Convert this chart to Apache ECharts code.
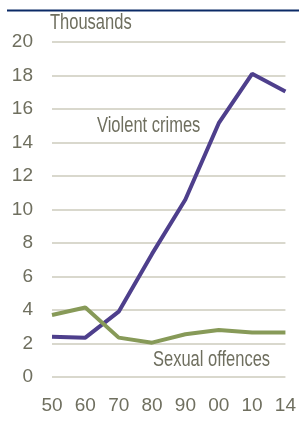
<!DOCTYPE html>
<html>
<head>
<meta charset="utf-8">
<script src="https://cdn.jsdelivr.net/npm/echarts@6/dist/echarts.min.js"></script>
<style>
html, body { margin: 0; padding: 0; background: #fff; }
#main { width: 299px; height: 428px; }
</style>
</head>
<body>
<div id="main"></div>
<script>
const years = ["50", "60", "70", "80", "90", "00", "10", "14"];
const violent = [2.4, 2.35, 3.9, 7.35, 10.6, 15.15, 18.1, 17.05];
const sexual = [3.7, 4.15, 2.35, 2.05, 2.55, 2.8, 2.65, 2.65];

const font = '"Liberation Sans", Arial, sans-serif';
const textColor = "#6f6f5f";

// narrow-looking label: regular font squeezed horizontally
function narrowText(text, x, y) {
	return {
		type: "text",
		x: x,
		y: y,
		scaleX: 0.75,
		style: {
			text: text,
			font: "22px " + font,
			fill: textColor,
			verticalAlign: "middle",
		},
	};
}

let chart = echarts.init(document.getElementById("main"));

chart.setOption({
	animation: false,
	grid: { left: 52, right: 12, top: 42, bottom: 51 },
	graphic: [
		{
			type: "line",
			shape: { x1: 7, y1: 10.5, x2: 299, y2: 10.5 },
			style: { stroke: "#0b2a66", lineWidth: 2 },
		},
		narrowText("Thousands", 50, 23),
		narrowText("Violent crimes", 97, 126),
		narrowText("Sexual offences", 153, 360),
	],
	xAxis: {
		type: "category",
		data: years,
		boundaryGap: false,
		axisLine: { show: false },
		axisTick: { show: false },
		axisLabel: { color: textColor, fontSize: 19, fontFamily: font, margin: 19 },
	},
	yAxis: {
		type: "value",
		min: 0,
		max: 20,
		interval: 2,
		axisLine: { show: false },
		axisTick: { show: false },
		axisLabel: { color: textColor, fontSize: 19, fontFamily: font, margin: 19 },
		splitLine: { lineStyle: { color: "#cdcbbd", width: 1.5 } },
	},
	series: [
		{
			name: "Violent crimes",
			type: "line",
			data: violent,
			symbol: "none",
			lineStyle: { color: "#4e3f8c", width: 4 },
		},
		{
			name: "Sexual offences",
			type: "line",
			data: sexual,
			symbol: "none",
			lineStyle: { color: "#879a58", width: 4 },
		},
	],
});
</script>
</body>
</html>
